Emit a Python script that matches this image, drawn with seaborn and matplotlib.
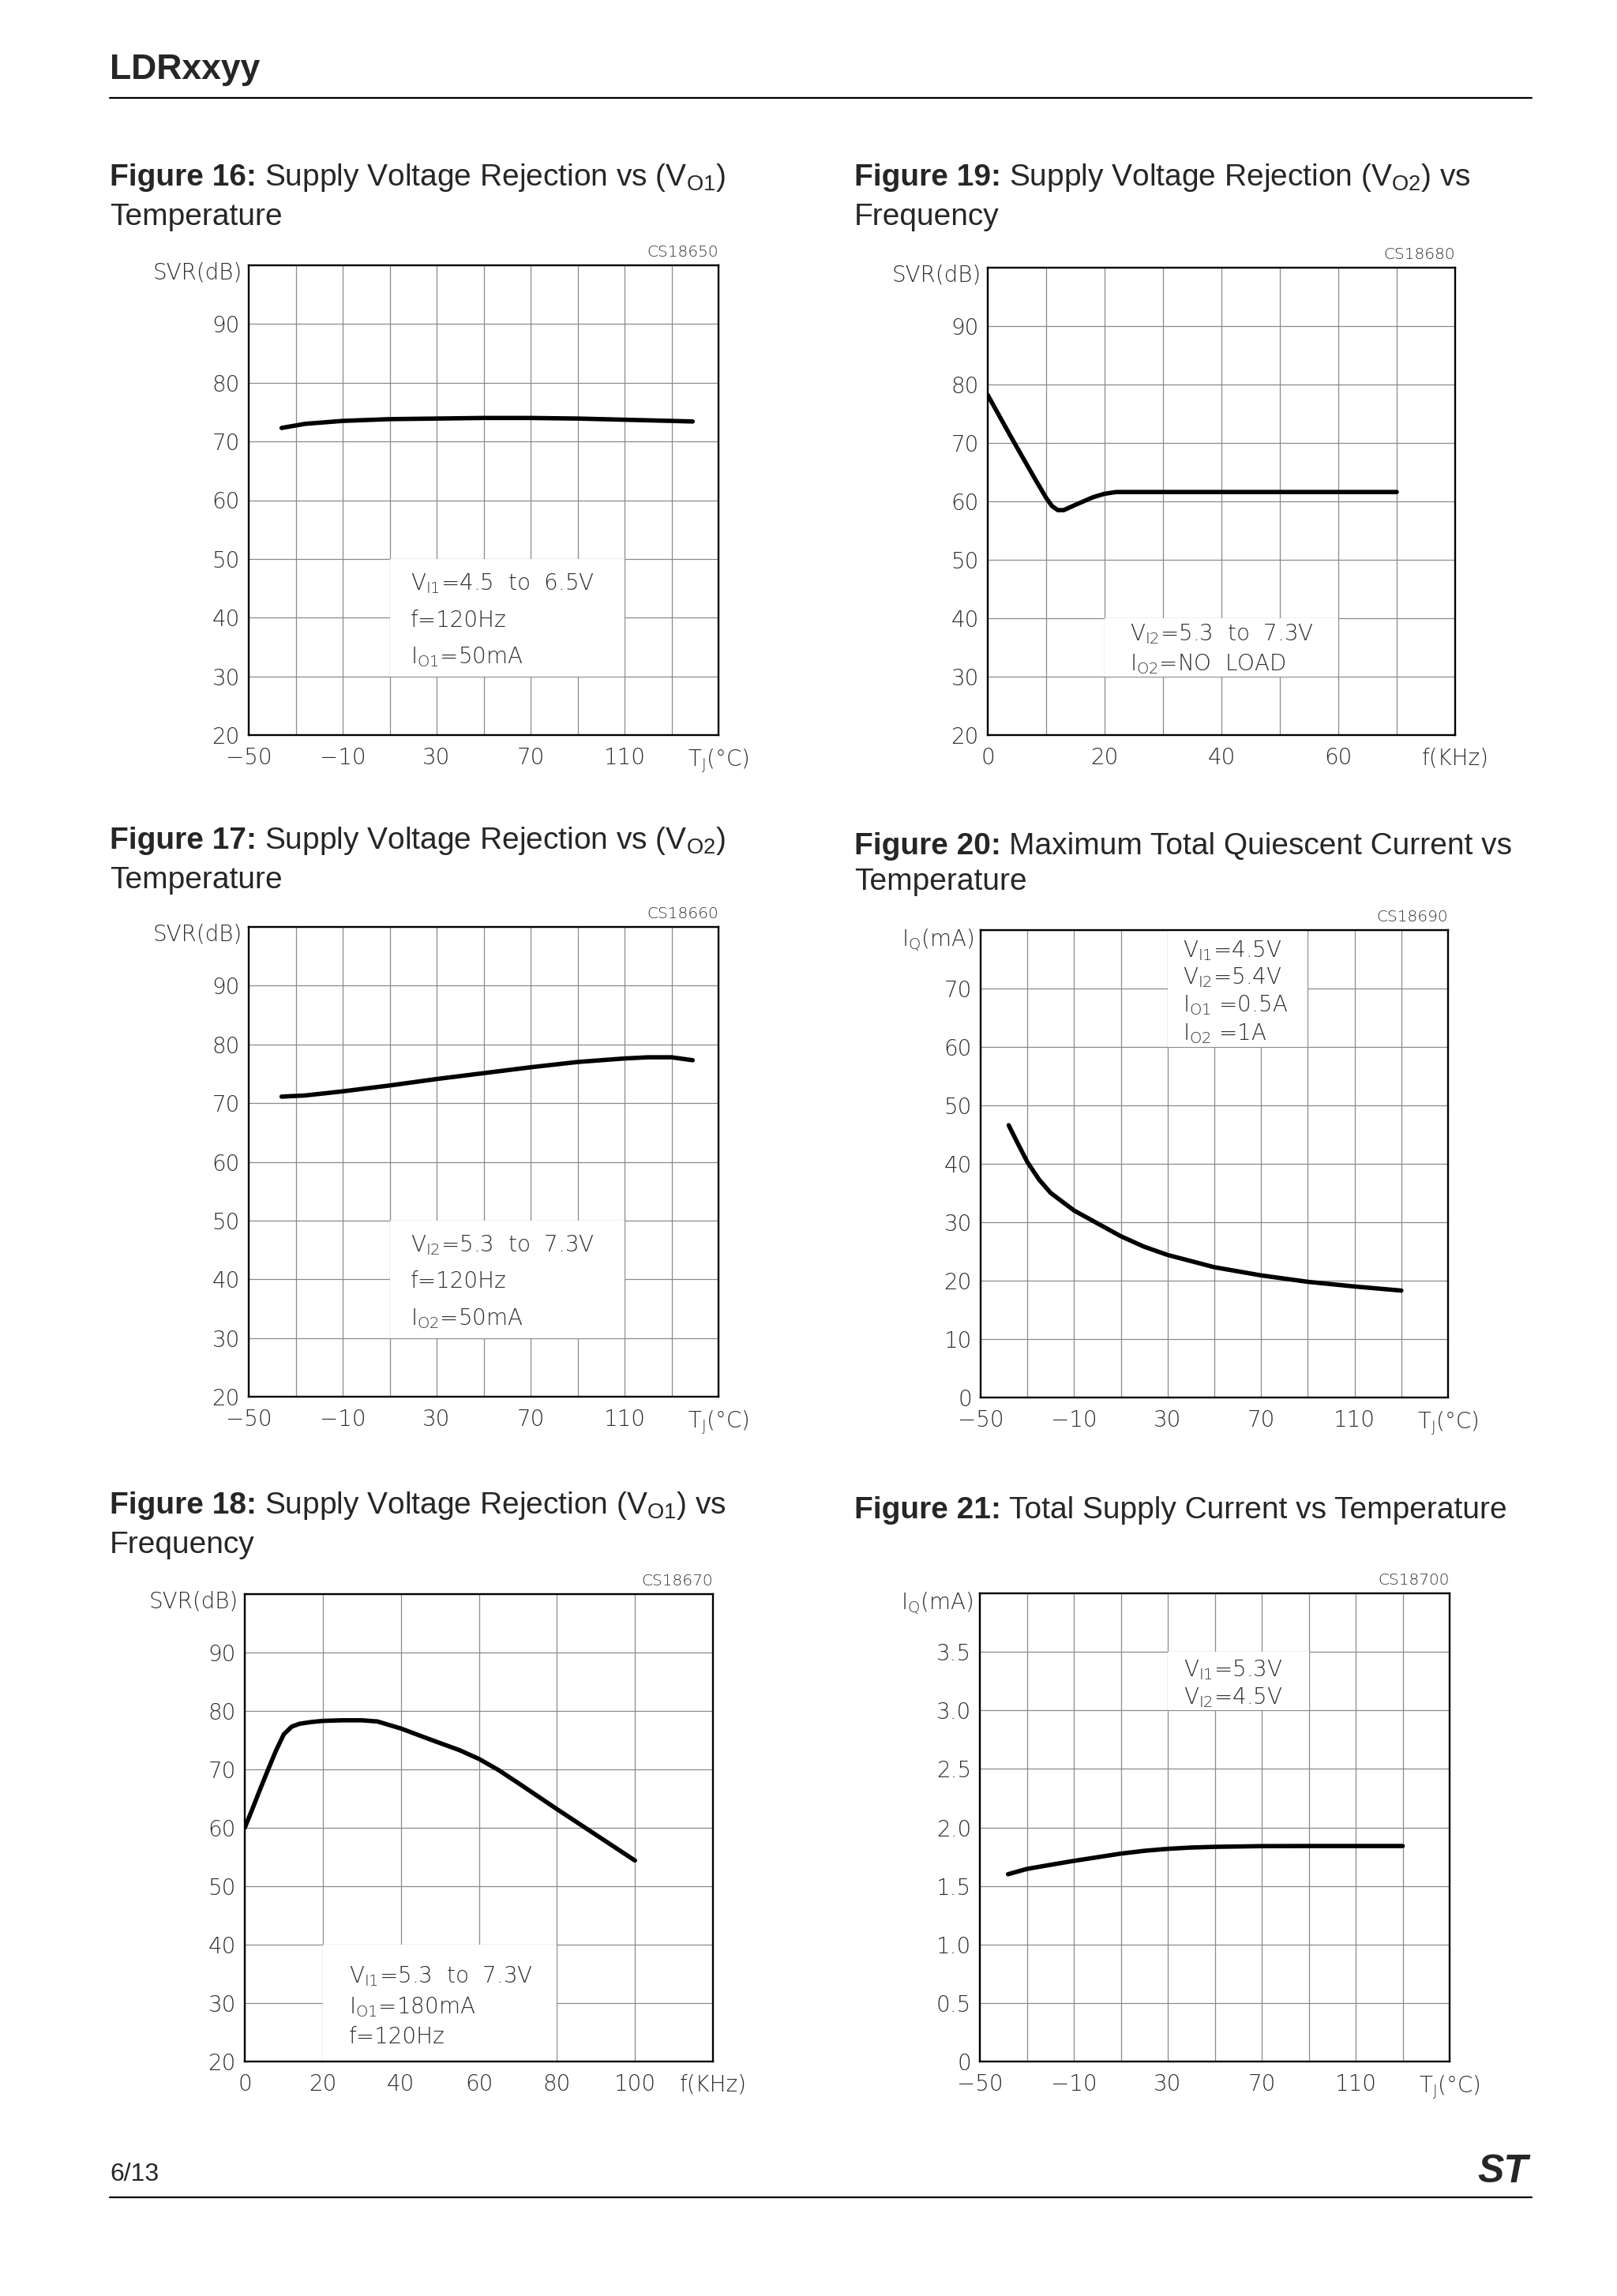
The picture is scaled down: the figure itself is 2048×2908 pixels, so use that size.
import matplotlib
matplotlib.use('Agg')
import matplotlib.pyplot as plt
from matplotlib.patches import Rectangle
import numpy as np
import seaborn as sns

# ---- datos ----
# Figure 16: SVR (VO1) vs temperatura
fig16_tj = [-36, -26, -10, 10, 30, 50, 70, 90, 110, 130, 139]
fig16_svr = [72.3, 73.0, 73.5, 73.8, 73.9, 74.0, 74.0, 73.9, 73.7, 73.5, 73.4]

# Figure 17: SVR (VO2) vs temperatura
fig17_tj = [-36, -26, -10, 10, 30, 50, 70, 90, 110, 120, 130, 139]
fig17_svr = [71.1, 71.3, 72.0, 73.0, 74.1, 75.1, 76.1, 77.0, 77.6, 77.8, 77.8, 77.3]

# Figure 18: SVR (VO1) vs frecuencia
fig18_f = [0, 2, 4, 6, 8, 10, 12, 14, 17, 20, 25, 30, 34, 40, 48, 55, 60, 65, 70, 80, 90, 100]
fig18_svr = [60.0, 63.3, 66.7, 70.0, 73.2, 76.0, 77.3, 77.8, 78.1, 78.3, 78.4, 78.4, 78.2,
             77.0, 75.0, 73.3, 71.8, 69.9, 67.7, 63.2, 58.8, 54.4]

# Figure 19: SVR (VO2) vs frecuencia
fig19_f = [0, 2, 4, 6, 8, 10, 11, 12, 13, 15, 18, 20, 22, 30, 50, 70]
fig19_svr = [78.2, 74.6, 71.0, 67.5, 64.0, 60.6, 59.2, 58.5, 58.5, 59.4, 60.7, 61.3,
             61.6, 61.6, 61.6, 61.6]

# Figure 20: corriente de reposo maxima vs temperatura
fig20_tj = [-38, -34, -30, -25, -20, -10, 0, 10, 20, 30, 50, 70, 90, 110, 130]
fig20_iq = [46.6, 43.4, 40.3, 37.3, 35.0, 32.0, 29.8, 27.6, 25.8, 24.4, 22.3, 20.9,
            19.8, 19.0, 18.3]

# Figure 21: corriente total vs temperatura
fig21_tj = [-38, -30, -20, -10, 0, 10, 20, 30, 40, 50, 70, 90, 110, 130]
fig21_iq = [1.60, 1.645, 1.68, 1.714, 1.745, 1.776, 1.80, 1.817, 1.828, 1.834,
            1.840, 1.841, 1.841, 1.841]

# ---- etiquetas ----
temp_ticks = ['\u221250', '', '\u221210', '', '30', '', '70', '', '110', '', r'T$_J$(°C)']
freq80_ticks = ['0', '', '20', '', '40', '', '60', '', 'f(KHz)']
freq120_ticks = ['0', '20', '40', '60', '80', '100', 'f(KHz)']
svr_ticks = ['20', '30', '40', '50', '60', '70', '80', '90', '']
iq80_ticks = ['0', '10', '20', '30', '40', '50', '60', '70', '']
iq4_ticks = ['0', '0.5', '1.0', '1.5', '2.0', '2.5', '3.0', '3.5', '']

notes16 = [r'V$_{I1}$=4.5  to  6.5V', 'f=120Hz', r'I$_{O1}$=50mA']
notes17 = [r'V$_{I2}$=5.3  to  7.3V', 'f=120Hz', r'I$_{O2}$=50mA']
notes18 = [r'V$_{I1}$=5.3  to  7.3V', r'I$_{O1}$=180mA', 'f=120Hz']
notes19 = [r'V$_{I2}$=5.3  to  7.3V', r'I$_{O2}$=NO  LOAD']
notes20 = [r'V$_{I1}$=4.5V', r'V$_{I2}$=5.4V', r'I$_{O1}$ =0.5A', r'I$_{O2}$ =1A']
notes21 = [r'V$_{I1}$=5.3V', r'V$_{I2}$=4.5V']

sns.set_style('white')
plt.rcParams['font.family'] = ['DejaVu Sans']
plt.rcParams['font.weight'] = 'light'
plt.rcParams['mathtext.default'] = 'regular'

W, H = 2048, 2908
fig = plt.figure(figsize=(W / 100, H / 100), dpi=100)
renderer = fig.canvas.get_renderer()

GRAY = '#2e2e2e'
FS = 20


def title(xpx, ypx, bold, rest):
    t = fig.text(xpx / W, 1 - ypx / H, bold, fontsize=28, weight='bold',
                 family='Liberation Sans', va='baseline')
    bb = t.get_window_extent(renderer)
    fig.text((bb.x1 + 10) / W, 1 - ypx / H, rest, fontsize=28, weight='normal',
             family='Liberation Sans', va='baseline')


def line2(xpx, ypx, txt):
    fig.text(xpx / W, 1 - ypx / H, txt, fontsize=28, weight='normal',
             family='Liberation Sans', va='baseline')


def panel(box, x, y, xlim, xstep, xlabels, ylim, ystep, ylabels, ylab, code,
          notes, nx, ny, rect):
    x0, y0, x1, y1 = box
    ax = fig.add_axes([x0 / W, 1 - y1 / H, (x1 - x0) / W, (y1 - y0) / H])
    ax.set_axisbelow(True)
    sns.lineplot(x=x, y=y, ax=ax, color='black', lw=4, zorder=3)
    ax.set_xlim(*xlim)
    ax.set_ylim(*ylim)
    ax.set_xticks(np.arange(xlim[0], xlim[1] + xstep / 2, xstep))
    ax.set_xticklabels(xlabels)
    ax.set_yticks(np.arange(ylim[0], ylim[1] + ystep / 2, ystep))
    ax.set_yticklabels(ylabels)
    ax.tick_params(axis='x', length=0, pad=11, labelsize=FS, labelcolor=GRAY)
    ax.tick_params(axis='y', length=0, pad=8, labelsize=FS, labelcolor=GRAY)
    ax.grid(True, color='#8a8a8a', lw=0.9)
    for s in ax.spines.values():
        s.set_visible(True)
        s.set_color('black')
        s.set_linewidth(1.7)
    ax.set_xlabel('')
    ax.set_ylabel('')
    ax.annotate(ylab, (0, 1), xycoords='axes fraction', xytext=(-6, 3),
                textcoords='offset points', ha='right', va='top',
                fontsize=FS, color=GRAY)
    ax.annotate(code, (1, 1), xycoords='axes fraction', xytext=(0, 5),
                textcoords='offset points', ha='right', va='bottom',
                fontsize=14.5, color=GRAY)
    ax.add_patch(Rectangle((rect[0], rect[1]), rect[2], rect[3],
                           facecolor='white', edgecolor='none', zorder=1))
    for txt, yy in zip(notes, ny):
        ax.text(nx, yy, txt, fontsize=FS, color=GRAY, va='center_baseline',
                ha='left', zorder=4)
    return ax


# cabecera y pie
fig.text(139 / W, 1 - 100 / H, 'LDRxxyy', fontsize=32, weight='bold',
         family='Liberation Sans', va='baseline')
fig.add_artist(plt.Line2D([139 / W, 1940 / W], [1 - 124 / H, 1 - 124 / H],
                          color='black', lw=1.6))
fig.text(139 / W, 1 - 2762 / H, '6/13', fontsize=23, weight='normal',
         family='Liberation Sans', va='baseline')
fig.add_artist(plt.Line2D([139 / W, 1940 / W], [1 - 2783 / H, 1 - 2783 / H],
                          color='black', lw=1.6))
fig.text(1935 / W, 1 - 2764 / H, 'ST', fontsize=36, weight='bold', style='italic',
         family='Liberation Sans', ha='right', va='baseline')

# titulos
title(139, 235, 'Figure 16:', r'Supply Voltage Rejection vs (V$_{O1}$)')
line2(139, 285, 'Temperature')
title(1082, 235, 'Figure 19:', r'Supply Voltage Rejection (V$_{O2}$) vs')
line2(1082, 285, 'Frequency')
title(139, 1075, 'Figure 17:', r'Supply Voltage Rejection vs (V$_{O2}$)')
line2(139, 1125, 'Temperature')
title(1082, 1082, 'Figure 20:', 'Maximum Total Quiescent Current vs')
line2(1082, 1127, 'Temperature')
title(139, 1917, 'Figure 18:', r'Supply Voltage Rejection (V$_{O1}$) vs')
line2(139, 1967, 'Frequency')
title(1082, 1923, 'Figure 21:', 'Total Supply Current vs Temperature')

# paneles
panel((315, 336, 910, 931), fig16_tj, fig16_svr, (-50, 150), 20, temp_ticks,
      (20, 100), 10, svr_ticks, 'SVR(dB)', 'CS18650',
      notes16, 18.8, [46.2, 39.9, 33.7], (10, 30, 100, 20))
panel((1251, 339, 1843, 931), fig19_f, fig19_svr, (0, 80), 10, freq80_ticks,
      (20, 100), 10, svr_ticks, 'SVR(dB)', 'CS18680',
      notes19, 24.3, [37.7, 32.6], (20, 30, 40, 10))
panel((315, 1174, 910, 1769), fig17_tj, fig17_svr, (-50, 150), 20, temp_ticks,
      (20, 100), 10, svr_ticks, 'SVR(dB)', 'CS18660',
      notes17, 18.8, [46.3, 40.1, 33.8], (10, 30, 100, 20))
panel((1242, 1178, 1834, 1770), fig20_tj, fig20_iq, (-50, 150), 20, temp_ticks,
      (0, 80), 10, iq80_ticks, r'I$_Q$(mA)', 'CS18690',
      notes20, 36.6, [76.9, 72.4, 67.6, 62.8], (30, 60, 60, 20))
panel((310, 2019, 903, 2611), fig18_f, fig18_svr, (0, 120), 20, freq120_ticks,
      (20, 100), 10, svr_ticks, 'SVR(dB)', 'CS18670',
      notes18, 26.7, [35.0, 29.8, 24.6], (20, 20, 60, 20))
panel((1241, 2018, 1836, 2611), fig21_tj, fig21_iq, (-50, 150), 20, temp_ticks,
      (0, 4), 0.5, iq4_ticks, r'I$_Q$(mA)', 'CS18700',
      notes21, 36.7, [3.37, 3.13], (30, 3.0, 60, 0.5))

fig.savefig('out.png', dpi=100, facecolor='white')
